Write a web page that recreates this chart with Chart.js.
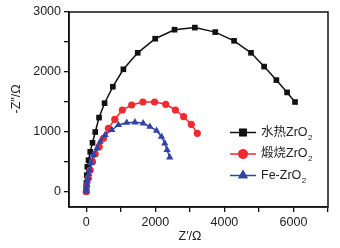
<!DOCTYPE html>
<html><head><meta charset="utf-8">
<script src="https://cdn.jsdelivr.net/npm/chart.js@4"></script>
<style>html,body{margin:0;padding:0;background:#fff}#wrap{width:340px;height:248px}</style>
</head><body><div id="wrap"><canvas id="c" width="340" height="248"></canvas></div>
<script>
// Series names (ZrO with subscript 2 drawn separately)
const seriesNames = ['水热ZrO', '煅烧ZrO', 'Fe-ZrO'];
const seriesSub = '2';
// 水热ZrO2 (black squares)
const hydroX = [0,5,15,30,65,115,180,260,370,530,770,1075,1490,1995,2555,3145,3735,4280,4770,5150,5505,5815,6045];
const hydroY = [30,150,280,420,530,670,820,1000,1240,1480,1755,2045,2320,2555,2705,2740,2665,2520,2320,2090,1865,1660,1500];
// 煅烧ZrO2 (red circles)
const calcX = [0,10,58,115,181,259,374,498,642,826,1045,1315,1640,1977,2302,2582,2820,3042,3215];
const calcY = [5,100,228,367,505,633,755,895,1062,1212,1367,1450,1500,1500,1462,1367,1255,1128,978];
// Fe-ZrO2 (blue triangles)
const feX = [0,5,15,30,50,72,100,140,210,308,403,547,740,930,1171,1410,1649,1842,2035,2179,2274,2340,2418];
const feY = [8,60,115,175,235,300,365,485,617,728,838,950,1033,1117,1155,1162,1145,1088,1022,922,812,700,578];
// Axis ticks
const xTicks = [0,1000,2000,3000,4000,5000,6000,7000];
const xLabels = [0,2000,4000,6000];
const yTicks = [0,500,1000,1500,2000,2500,3000];
const yLabels = [0,1000,2000,3000];
const xTitle = 'Z′/Ω';
const yTitle = '-Z″/Ω';

const colors = ['#111111', '#ee2b30', '#2e44a6'];
const styles = ['rect', 'circle', 'triangle'];
const radii = [4, 3.6, 4.2];
const zip = (xs, ys) => xs.map((x, i) => ({x, y: ys[i]}));
const data = [zip(hydroX, hydroY), zip(calcX, calcY), zip(feX, feY)];

const FONT = '"Liberation Sans", Arial, "Noto Sans CJK SC", sans-serif';

const frameAndText = {
  id: 'frameAndText',
  afterDraw(chart) {
    const ctx = chart.ctx, a = chart.chartArea;
    ctx.save();
    ctx.strokeStyle = '#111';
    ctx.lineWidth = 1.5;
    ctx.strokeRect(a.left, a.top, a.right - a.left, a.bottom - a.top);
    // axis titles
    ctx.fillStyle = '#222';
    ctx.font = '12.5px ' + FONT;
    ctx.textAlign = 'center';
    ctx.textBaseline = 'middle';
    ctx.fillText(xTitle, 190, 237);
    ctx.save();
    ctx.translate(17, 99);
    ctx.rotate(-Math.PI / 2);
    ctx.fillText(yTitle, 0, 0);
    ctx.restore();
    // legend
    const rowsY = [132.5, 154, 175.5];
    for (let i = 0; i < 3; i++) {
      const y = rowsY[i];
      ctx.strokeStyle = colors[i];
      ctx.lineWidth = 1.5;
      ctx.beginPath(); ctx.moveTo(230, y); ctx.lineTo(256, y); ctx.stroke();
      ctx.fillStyle = colors[i];
      Chart.helpers.drawPoint(ctx, {pointStyle: styles[i], radius: radii[i] * 1.35, borderWidth: 0}, 243, y);
      ctx.fill();
      ctx.fillStyle = '#222';
      ctx.textAlign = 'left';
      ctx.font = '12.5px ' + FONT;
      ctx.fillText(seriesNames[i], 261, y);
      const w = ctx.measureText(seriesNames[i]).width;
      ctx.font = '8px ' + FONT;
      ctx.fillText(seriesSub, 261 + w + 0.5, y + 5);
    }
    ctx.restore();
  }
};

new Chart(document.getElementById('c'), {
  type: 'scatter',
  data: {
    datasets: [2, 1, 0].map(i => ({
      label: seriesNames[i] + seriesSub,
      data: data[i],
      showLine: true,
      borderColor: colors[i],
      backgroundColor: colors[i],
      borderWidth: 1.5,
      pointStyle: styles[i],
      pointRadius: radii[i],
      pointBorderWidth: 0,
      tension: 0
    }))
  },
  options: {
    responsive: false,
    animation: false,
    devicePixelRatio: 1,
    layout: {padding: {left: 0, right: 12, top: 12, bottom: 0}},
    plugins: {legend: {display: false}, tooltip: {enabled: false}},
    scales: {
      x: {
        type: 'linear', min: -500, max: 7000,
        afterFit: s => { s.height = 41; },
        afterBuildTicks: s => { s.ticks = xTicks.map(v => ({value: v})); },
        ticks: {
          autoSkip: false, maxRotation: 0, padding: 3,
          color: '#222', font: {family: FONT, size: 12.5},
          callback: v => xLabels.includes(v) ? String(v) : ''
        },
        grid: {drawOnChartArea: false, drawTicks: true, tickLength: 5, color: '#111', lineWidth: 1.3},
        border: {display: true, color: '#111', width: 1.5}
      },
      y: {
        type: 'linear', min: -250, max: 3000,
        afterFit: s => { s.width = 69; },
        afterBuildTicks: s => { s.ticks = yTicks.map(v => ({value: v})); },
        ticks: {
          autoSkip: false, padding: 3,
          color: '#222', font: {family: FONT, size: 12.5},
          callback: v => yLabels.includes(v) ? String(v) : ''
        },
        grid: {drawOnChartArea: false, drawTicks: true, tickLength: 5, color: '#111', lineWidth: 1.3},
        border: {display: true, color: '#111', width: 1.5}
      }
    }
  },
  plugins: [frameAndText]
});
</script>
</body></html>
